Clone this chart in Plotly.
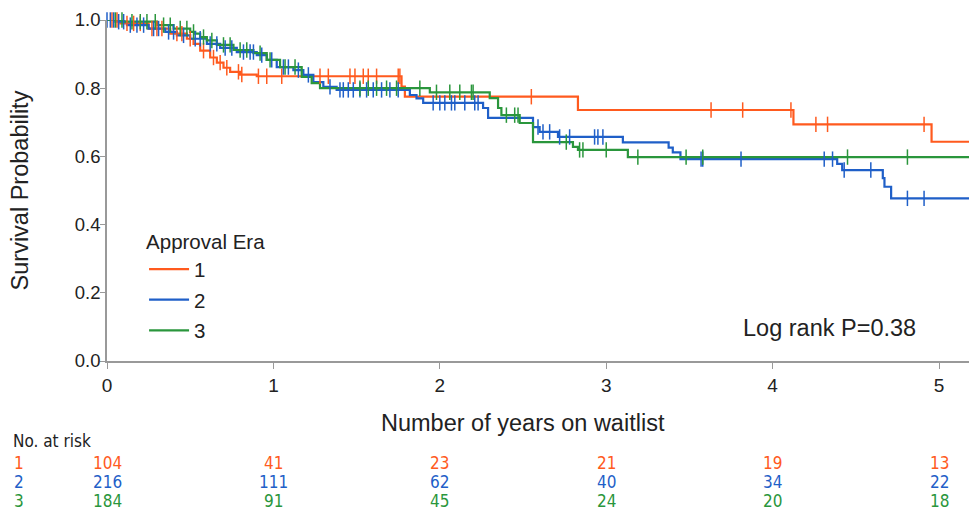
import plotly.graph_objects as go

X_MAX = 5.18

# ---- Kaplan-Meier step data (time in years, survival) ----
era1_t = [0, 0.08, 0.25, 0.38, 0.48, 0.52, 0.56, 0.62, 0.66, 0.70, 0.74, 0.80, 0.90, 1.77, 1.79, 2.83, 4.125, 4.955]
era1_s = [1.0, 0.99, 0.975, 0.96, 0.945, 0.93, 0.91, 0.89, 0.875, 0.86, 0.848, 0.84, 0.835, 0.805, 0.775, 0.736, 0.694, 0.643]
era1_cens = [0.03, 0.06, 0.12, 0.16, 0.2, 0.27, 0.3, 0.33, 0.42, 0.45, 0.5, 0.58, 0.64, 0.68, 0.72, 0.79, 0.81, 0.91, 0.96,
             1.05, 1.28, 1.33, 1.46, 1.49, 1.54, 1.57, 1.62, 1.75, 1.76, 2.55, 3.63, 3.82, 4.11, 4.26, 4.33, 4.91]

era2_t = [0, 0.05, 0.12, 0.25, 0.35, 0.42, 0.50, 0.60, 0.68, 0.78, 0.90, 0.96, 1.02, 1.12, 1.18, 1.24, 1.30, 1.38,
          1.82, 1.86, 1.90, 2.26, 2.29, 2.56, 2.60, 2.71, 3.10, 3.375, 3.40, 3.446, 4.388, 4.418, 4.662, 4.672, 4.712]
era2_s = [1.0, 0.995, 0.985, 0.975, 0.965, 0.955, 0.945, 0.93, 0.918, 0.906, 0.897, 0.883, 0.862, 0.853, 0.839, 0.818, 0.804, 0.795,
          0.78, 0.77, 0.757, 0.742, 0.713, 0.686, 0.672, 0.657, 0.641, 0.626, 0.612, 0.592, 0.578, 0.56, 0.536, 0.511, 0.477]
era2_cens = [0.0, 0.02, 0.04, 0.07, 0.1, 0.14, 0.18, 0.22, 0.28, 0.31, 0.37, 0.4, 0.46, 0.53, 0.56, 0.62, 0.66, 0.71, 0.75,
             0.82, 0.86, 0.88, 0.93, 0.99, 1.06, 1.09, 1.15, 1.21, 1.34, 1.4, 1.42, 1.45, 1.48, 1.52, 1.56, 1.6, 1.65, 1.7, 1.75,
             1.96, 2.0, 2.03, 2.07, 2.09, 2.15, 2.21, 2.23, 2.59, 2.62, 2.66, 2.72, 2.78, 2.93, 2.95, 2.98,
             3.57, 3.58, 3.81, 4.31, 4.36, 4.43, 4.59, 4.81, 4.91]

era3_t = [0, 0.10, 0.30, 0.40, 0.50, 0.53, 0.56, 0.60, 0.66, 0.76, 0.88, 0.96, 1.04, 1.17, 1.23, 1.28, 1.94,
          2.30, 2.35, 2.37, 2.48, 2.56, 2.80, 2.83, 3.13]
era3_s = [1.0, 0.995, 0.985, 0.975, 0.965, 0.96, 0.95, 0.94, 0.927, 0.912, 0.903, 0.883, 0.862, 0.833, 0.815, 0.80, 0.788,
          0.771, 0.742, 0.721, 0.698, 0.642, 0.628, 0.619, 0.598]
era3_cens = [0.05, 0.09, 0.15, 0.2, 0.24, 0.29, 0.34, 0.38, 0.44, 0.48, 0.52, 0.58, 0.63, 0.7, 0.74, 0.8, 0.84, 0.92, 0.98,
             1.07, 1.13, 1.52, 1.57, 1.62, 1.68, 1.74, 1.88, 1.98, 2.06, 2.12, 2.19, 2.2, 2.4, 2.45, 2.47,
             2.76, 2.84, 2.86, 3.0, 3.19, 3.48, 3.58, 4.45, 4.81]

# ---- Risk table ----
risk_times = [0, 1, 2, 3, 4, 5]
risk_era1 = [104, 41, 23, 21, 19, 13]
risk_era2 = [216, 111, 62, 40, 34, 22]
risk_era3 = [184, 91, 45, 24, 20, 18]

eras = ["1", "2", "3"]
colors = ["#FF5A1E", "#1F5FC8", "#2A963C"]


def surv_at(t, times, vals):
    s = vals[0]
    for tt, vv in zip(times, vals):
        if tt <= t:
            s = vv
        else:
            break
    return s


fig = go.Figure()
series = [(era1_t, era1_s, era1_cens), (era2_t, era2_s, era2_cens), (era3_t, era3_s, era3_cens)]
for name, col, (tt, ss, cc) in zip(eras, colors, series):
    xs = list(tt) + [X_MAX]
    ys = list(ss) + [ss[-1]]
    fig.add_trace(go.Scatter(x=xs, y=ys, mode="lines", line=dict(color=col, width=2.2, shape="hv"),
                             name=name, legendgroup=name, cliponaxis=False))
for name, col, (tt, ss, cc) in zip(eras, colors, series):
    fig.add_trace(go.Scatter(x=cc, y=[surv_at(c, tt, ss) for c in cc], mode="markers",
                             marker=dict(symbol="line-ns", size=11, line=dict(color=col, width=1.5)),
                             showlegend=False, legendgroup=name, cliponaxis=False, hoverinfo="skip"))

font_main = "Liberation Sans, Arial, sans-serif"
font_narrow = "Liberation Sans Narrow, Arial Narrow, DejaVu Sans Condensed, Liberation Sans, sans-serif"

annotations = []
# axis titles
annotations.append(dict(x=2.5, y=-0.182, xref="x", yref="paper", text="Number of years on waitlist",
                        showarrow=False, font=dict(size=23.5, color="#222", family=font_main), yanchor="middle"))
annotations.append(dict(x=-0.101, y=0.5, xref="paper", yref="paper", text="Survival Probability", textangle=-90,
                        showarrow=False, font=dict(size=23.5, color="#222", family=font_main),
                        xanchor="center", yanchor="middle"))
annotations.append(dict(x=0.941, y=0.097, xref="paper", yref="paper", text="Log rank P=0.38",
                        showarrow=False, xanchor="right", yanchor="middle",
                        font=dict(size=23.5, color="#222", family=font_main)))
annotations.append(dict(x=-0.111, y=-0.235, xref="paper", yref="paper", text="No. at risk", xanchor="left",
                        yanchor="middle", showarrow=False, font=dict(size=17, color="#222", family=font_narrow)))
row_y = [-0.299, -0.355, -0.41]
for name, col, ry, vals in zip(eras, colors, row_y, [risk_era1, risk_era2, risk_era3]):
    annotations.append(dict(x=-0.110, y=ry, xref="paper", yref="paper", text=name, showarrow=False,
                            yanchor="middle", font=dict(size=17, color=col, family=font_narrow)))
    for t, v in zip(risk_times, vals):
        annotations.append(dict(x=t, y=ry, xref="x", yref="paper", text=str(v), showarrow=False,
                                yanchor="middle", font=dict(size=17, color=col, family=font_narrow)))

fig.update_layout(
    width=969, height=515,
    margin=dict(l=107, r=0, t=20, b=154),
    paper_bgcolor="white", plot_bgcolor="white",
    font=dict(family=font_main, size=18, color="#222"),
    showlegend=True,
    legend=dict(x=0.043, y=0.406, xanchor="left", yanchor="top", bgcolor="rgba(0,0,0,0)",
                title=dict(text="Approval Era", font=dict(size=20.5)), font=dict(size=20.5),
                tracegroupgap=1, itemwidth=40),
    annotations=annotations,
    xaxis=dict(range=[0, X_MAX], tickvals=[0, 1, 2, 3, 4, 5], showgrid=False, zeroline=False,
               showline=True, linecolor="#999", linewidth=1.5, ticks="outside", ticklen=6, tickcolor="#999",
               tickfont=dict(size=19, color="#222")),
    yaxis=dict(range=[0, 1.0], tickvals=[0, 0.2, 0.4, 0.6, 0.8, 1.0], tickformat=".1f", showgrid=False,
               zeroline=False, showline=True, linecolor="#999", linewidth=1.5, ticks="outside", ticklen=5,
               tickcolor="#999", tickfont=dict(size=18.5, color="#222"), ticklabelstandoff=-4),
)

fig.write_html("out.html", config={"displayModeBar": False},
               post_script="document.body.style.margin='0';document.body.style.padding='0';")
